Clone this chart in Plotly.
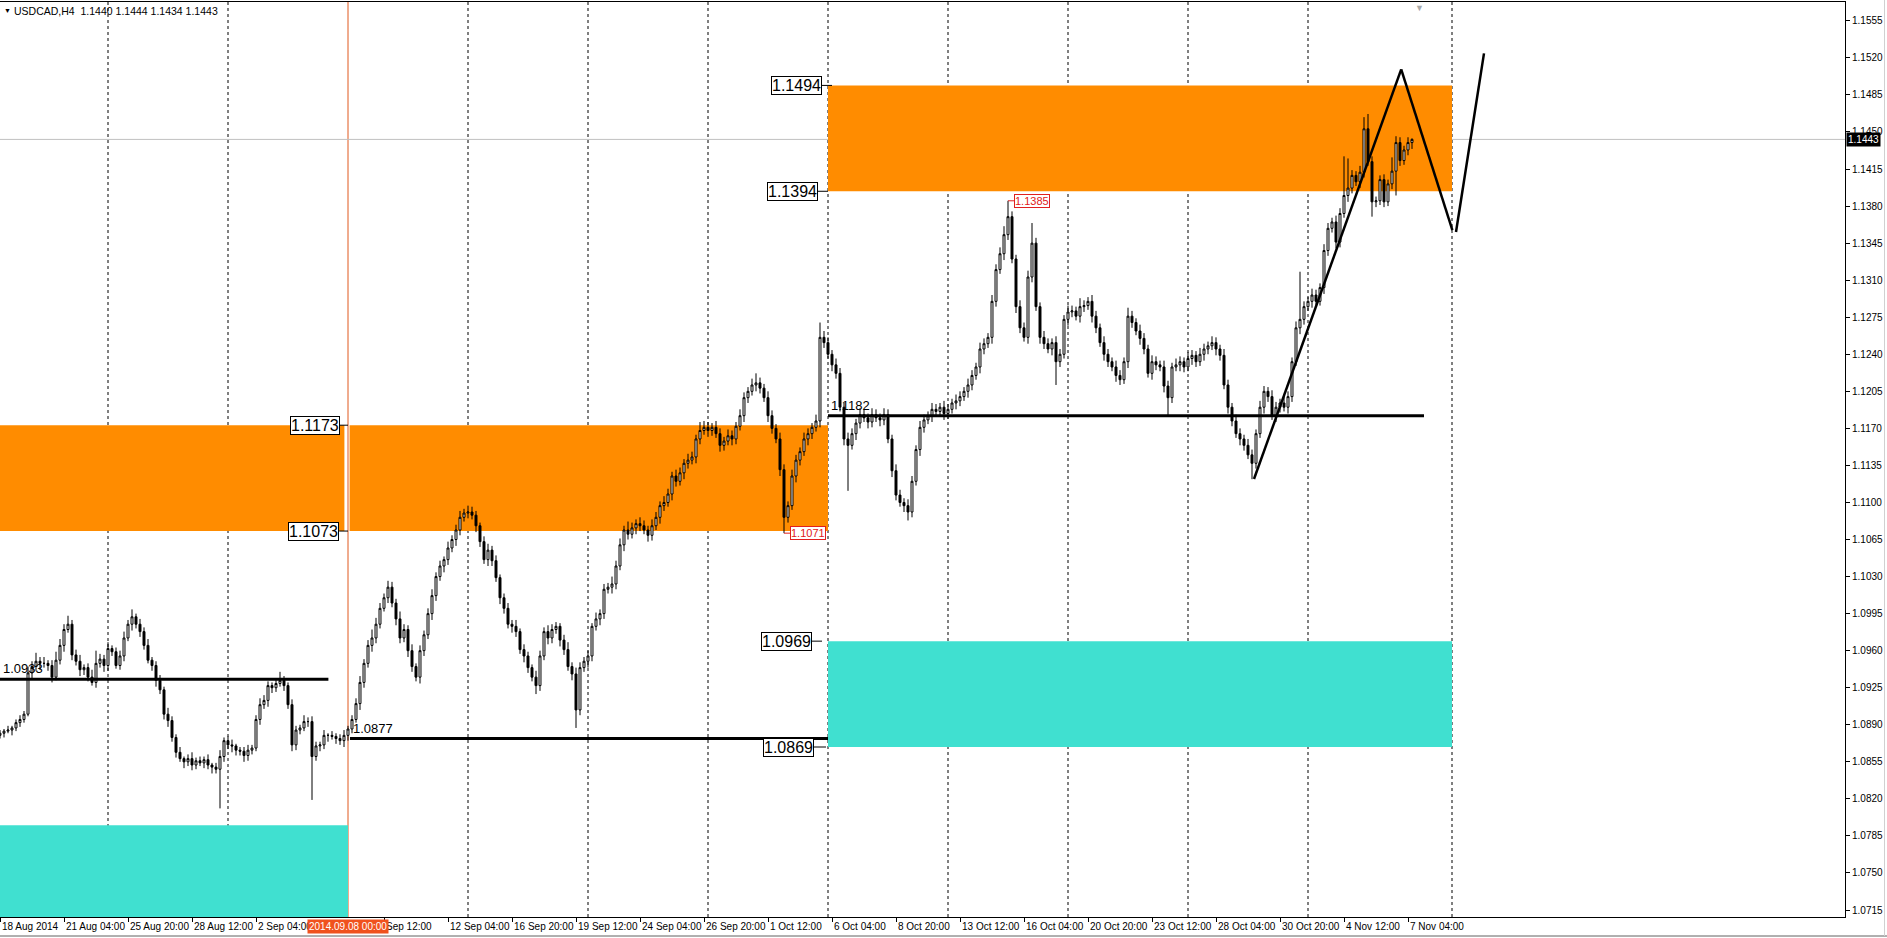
import plotly.graph_objects as go

# ---------------- data (prices in pips above 1.0000) ----------------
first_open_pips = 880
close_pips = [
    882, 884, 885, 887, 892, 895, 900, 939, 945, 950,
    948, 948, 946, 935, 951, 965, 980, 985, 956, 950,
    942, 944, 935, 930, 948, 952, 946, 962, 959, 946,
    955, 972, 985, 992, 985, 978, 965, 951, 946, 932,
    923, 900, 894, 878, 864, 858, 855, 858, 852, 856,
    854, 857, 852, 850, 848, 860, 875, 871, 870, 866,
    865, 861, 866, 868, 895, 909, 913, 927, 925, 929,
    932, 927, 909, 871, 885, 887, 893, 893, 860, 870,
    871, 880, 880, 879, 877, 875, 880,
    886, 895, 910, 930, 948, 965, 972, 985, 1000, 1010,
    1020, 1005, 990, 972, 980, 960, 945, 935, 960, 975,
    995, 1012, 1030, 1040, 1046, 1057, 1065, 1074, 1086, 1090,
    1091, 1088, 1078, 1063, 1046, 1055, 1045, 1029, 1010, 1000,
    985, 983, 978, 961, 955, 944, 935, 927, 955, 978,
    972, 980, 983, 970, 961, 945, 938, 904, 944, 950,
    955, 983, 990, 995, 1018, 1020, 1023, 1040, 1060, 1074,
    1070, 1076, 1080, 1078, 1074, 1069, 1078, 1086, 1097, 1100,
    1108, 1125, 1120, 1128, 1137, 1140, 1143, 1160, 1168, 1171,
    1168, 1171, 1165, 1154, 1158, 1163, 1160, 1172, 1182, 1199,
    1205, 1211, 1213, 1208, 1199, 1182, 1170, 1160, 1131, 1086,
    1097, 1125, 1140, 1148, 1160, 1165, 1171, 1177, 1256, 1251,
    1240, 1230, 1222, 1190, 1160, 1154, 1165, 1175, 1183, 1180,
    1176, 1183, 1180, 1178, 1183, 1160, 1130, 1107, 1100, 1097,
    1091, 1120, 1150, 1171, 1178, 1182, 1188, 1186, 1190, 1184,
    1188, 1194, 1196, 1200, 1205, 1211, 1220, 1228, 1245, 1250,
    1256, 1290, 1320, 1335, 1353, 1370, 1330, 1285, 1265, 1256,
    1313, 1345, 1285, 1256, 1250, 1245, 1251, 1233, 1240, 1273,
    1280, 1281, 1276, 1285, 1286, 1290, 1276, 1265, 1251, 1240,
    1233, 1228, 1220, 1216, 1233, 1276, 1270, 1262, 1255, 1245,
    1222, 1233, 1230, 1228, 1210, 1199, 1228, 1230, 1233, 1228,
    1236, 1239, 1233, 1240, 1245, 1248, 1251, 1245, 1239, 1211,
    1190, 1177, 1165, 1160, 1154, 1145, 1137, 1165, 1190, 1205,
    1200, 1182, 1190, 1194, 1190, 1200, 1233, 1265, 1273, 1285,
    1290, 1296, 1290, 1303, 1338, 1359, 1365, 1346, 1373, 1390,
    1397, 1409, 1403, 1412, 1453, 1422, 1384, 1385, 1405, 1384,
    1401, 1413, 1440, 1423, 1433, 1440, 1443,
]
wick_up = [
    3, 2, 4, 2, 3, 4, 3, 6, 5, 8,
    4, 6, 3, 5, 8, 6, 5, 8, 4, 5,
    6, 3, 4, 7, 12, 5, 4, 6, 3, 4,
    5, 6, 4, 7, 3, 5, 4, 6, 3, 4,
    5, 3, 6, 4, 3, 5, 2, 4, 6, 3,
    4, 3, 5, 2, 4, 6, 3, 4, 5, 2,
    3, 4, 5, 3, 4, 6, 5, 4, 3, 5,
    8, 4, 3, 5, 4, 3, 6, 4, 5, 4,
    3, 5, 2, 4, 3, 4, 5,
    3, 4, 5, 6, 4, 5, 8, 6, 5, 4,
    6, 5, 4, 7, 5, 4, 6, 3, 5, 4,
    5, 6, 4, 5, 3, 6, 4, 5, 6, 4,
    6, 5, 4, 3, 5, 6, 4, 5, 3, 4,
    5, 4, 6, 3, 5, 4, 3, 6, 5, 4,
    6, 5, 4, 3, 5, 7, 4, 6, 5, 4,
    5, 3, 6, 4, 5, 4, 7, 5, 6, 4,
    8, 5, 4, 6, 5, 4, 6, 5, 4, 6,
    5, 4, 6, 5, 4, 6, 5, 4, 8, 6,
    5, 4, 6, 5, 4, 6, 5, 4, 6, 5,
    4, 6, 9, 5, 4, 6, 5, 4, 6, 5,
    4, 6, 5, 4, 6, 5, 4, 6, 14, 6,
    5, 4, 6, 5, 4, 6, 5, 4, 6, 5,
    4, 6, 5, 4, 6, 5, 4, 6, 5, 4,
    6, 5, 4, 6, 5, 4, 6, 5, 4, 6,
    5, 4, 6, 5, 4, 6, 5, 4, 6, 5,
    4, 6, 5, 6, 8, 15, 5, 4, 6, 5,
    6, 19, 5, 4, 6, 5, 4, 6, 5, 4,
    6, 5, 4, 8, 5, 4, 6, 5, 4, 6,
    5, 4, 6, 5, 4, 8, 5, 4, 6, 5,
    4, 6, 5, 4, 6, 5, 4, 6, 5, 4,
    6, 5, 4, 6, 5, 4, 6, 5, 4, 6,
    5, 4, 6, 5, 4, 6, 5, 4, 6, 5,
    4, 6, 5, 4, 6, 5, 4, 6, 45, 5,
    4, 6, 5, 4, 6, 5, 4, 6, 5, 37,
    28, 5, 4, 6, 11, 14, 5, 4, 4, 5,
    4, 13, 6, 5, 4, 5, 1,
]
wick_dn = [
    3, 4, 2, 5, 3, 4, 3, 2, 5, 4,
    6, 4, 5, 5, 3, 4, 6, 3, 5, 4,
    6, 5, 4, 3, 5, 4, 6, 5, 4, 3,
    4, 5, 3, 6, 4, 5, 4, 3, 5, 6,
    4, 5, 6, 4, 5, 3, 6, 4, 5, 4,
    3, 5, 4, 6, 4, 37, 5, 4, 6, 5,
    4, 6, 5, 4, 3, 5, 4, 6, 5, 4,
    3, 5, 4, 6, 5, 4, 3, 5, 41, 4,
    5, 4, 6, 3, 5, 4, 6,
    5, 4, 3, 6, 5, 4, 6, 5, 4, 3,
    5, 4, 6, 5, 4, 6, 5, 4, 6, 5,
    4, 6, 5, 4, 6, 5, 4, 6, 5, 4,
    5, 4, 6, 5, 4, 6, 5, 4, 6, 5,
    4, 6, 5, 4, 6, 5, 4, 8, 5, 4,
    6, 5, 4, 6, 5, 4, 6, 17, 5, 4,
    6, 5, 4, 6, 5, 4, 6, 5, 4, 6,
    5, 4, 6, 5, 4, 6, 5, 4, 6, 5,
    4, 6, 5, 4, 6, 5, 4, 6, 5, 4,
    6, 5, 4, 6, 5, 4, 6, 5, 4, 6,
    5, 4, 6, 5, 4, 6, 5, 4, 6, 15,
    5, 4, 6, 5, 4, 6, 5, 4, 6, 5,
    4, 6, 5, 4, 6, 43, 4, 6, 5, 4,
    6, 5, 4, 6, 5, 4, 6, 5, 4, 6,
    8, 5, 4, 6, 5, 4, 6, 5, 4, 6,
    5, 4, 6, 5, 4, 6, 5, 4, 6, 5,
    4, 6, 5, 4, 6, 5, 4, 6, 5, 4,
    6, 5, 4, 6, 5, 4, 6, 22, 5, 4,
    6, 5, 4, 6, 5, 4, 6, 5, 4, 6,
    5, 4, 6, 5, 4, 6, 5, 4, 6, 5,
    4, 6, 5, 4, 6, 17, 5, 4, 6, 5,
    4, 6, 5, 4, 6, 5, 4, 6, 5, 4,
    6, 5, 4, 6, 5, 4, 15, 5, 4, 6,
    5, 4, 6, 5, 4, 6, 5, 4, 6, 5,
    4, 6, 5, 4, 6, 5, 4, 6, 5, 4,
    6, 5, 4, 6, 5, 4, 14, 5, 4, 5,
    4, 5, 23, 5, 4, 5, 6,
]

# x-axis: bar index of labels (H4 bars, first visible bar = 18 Aug 2014 12:00)
x_tick_idx = [0, 16, 32, 48, 64, 96, 112, 128, 144, 160, 176, 192, 208,
              224, 240, 256, 272, 288, 304, 320, 336, 352]
x_tick_text = ["18 Aug 2014", "21 Aug 04:00", "25 Aug 20:00", "28 Aug 12:00",
               "2 Sep 04:00", "Sep 12:00", "12 Sep 04:00",
               "16 Sep 20:00", "19 Sep 12:00", "24 Sep 04:00", "26 Sep 20:00",
               "1 Oct 12:00", "6 Oct 04:00", "8 Oct 20:00", "13 Oct 12:00",
               "16 Oct 04:00", "20 Oct 20:00", "23 Oct 12:00", "28 Oct 04:00",
               "30 Oct 20:00", "4 Nov 12:00", "7 Nov 04:00"]
y_tick_text = ["1.0715", "1.0750", "1.0785", "1.0820", "1.0855", "1.0890",
               "1.0925", "1.0960", "1.0995", "1.1030", "1.1065", "1.1100",
               "1.1135", "1.1170", "1.1205", "1.1240", "1.1275", "1.1310",
               "1.1345", "1.1380", "1.1415", "1.1450", "1.1485", "1.1520",
               "1.1555"]

# weekly separators (bar index of Monday 00:00) and a future vertical line
week_sep_idx = [27, 57, 117, 147, 177, 207, 237, 267, 297, 327, 363]
vline_idx = 87            # 2014.09.08 00:00
vline_label = "2014.09.08 00:00"

# zones: (x0 idx, x1 idx, low, high, colour)
zones = [
    (-10, 86.1, 1.1073, 1.1173, "#FF8C00"),
    (87.4, 207, 1.1073, 1.1173, "#FF8C00"),
    (207, 363, 1.1394, 1.1494, "#FF8C00"),
    (-10, 87, 1.0695, 1.0795, "#40E0D0"),
    (207, 363, 1.0869, 1.0969, "#40E0D0"),
]
# zone price labels: (text, right-edge idx, price, connector end idx)
zone_labels = [
    ("1.1494", 205.5, 1.1494, 208.0),
    ("1.1394", 204.5, 1.1394, 207.0),
    ("1.1173", 85.0, 1.1173, 87.0),
    ("1.1073", 84.8, 1.1073, 87.0),
    ("1.0969", 203.0, 1.0969, 205.5),
    ("1.0869", 203.5, 1.0869, 206.5),
]
# horizontal levels: (price, x0 idx, x1 idx, label)
levels = [
    (1.0933, 0, 82.1, "1.0933"),
    (1.0877, 87.5, 207, "1.0877"),
    (1.1182, 207, 356, "1.1182"),
]
# high/low markers: (text, bar idx, price)
hl_marks = [("1.1385", 252, 1.1385), ("1.1071", 196, 1.1071)]
# hand-drawn zigzag segments: ((idx0, p0), (idx1, p1))
zigzag = [
    ((313.5, 1.11222), (350.3, 1.15092)),
    ((350.3, 1.15092), (363.1, 1.13574)),
    ((364.0, 1.13555), (371.0, 1.15243)),
]
bid = 1.1443
title_text = "USDCAD,H4\u00a0\u00a01.1440 1.1444 1.1434 1.1443"

# ---------------- build OHLC ----------------
n = len(close_pips)
assert len(wick_up) == n and len(wick_dn) == n, (n, len(wick_up), len(wick_dn))
closes = [1 + c / 10000 for c in close_pips]
opens = [1 + first_open_pips / 10000] + closes[:-1]
highs = [max(o, c) + u / 10000 for o, c, u in zip(opens, closes, wick_up)]
lows = [min(o, c) - d / 10000 for o, c, d in zip(opens, closes, wick_dn)]
xs = list(range(n))

FONT = "Liberation Sans"
W, H = 1887, 938
ML, MR, MT, MB = 0, 42, 2, 21
PW = W - ML - MR

fig = go.Figure(go.Candlestick(
    x=xs, open=opens, high=highs, low=lows, close=closes,
    increasing=dict(line=dict(color="black", width=1), fillcolor="white"),
    decreasing=dict(line=dict(color="black", width=1), fillcolor="black"),
    whiskerwidth=0, showlegend=False, hoverinfo="skip",
))

shapes = []
for x0, x1, lo, hi, col in zones:
    shapes.append(dict(type="rect", x0=x0, x1=x1, y0=lo, y1=hi, xref="x", yref="y",
                       fillcolor=col, line=dict(width=0), layer="below"))
for s in week_sep_idx:
    shapes.append(dict(type="line", x0=s, x1=s, y0=0, y1=1, xref="x", yref="paper",
                       line=dict(color="black", width=1, dash="3px,3px"), layer="below"))
shapes.append(dict(type="line", x0=vline_idx, x1=vline_idx, y0=0, y1=1, xref="x",
                   yref="paper", line=dict(color="#E0581F", width=1), layer="below"))
shapes.append(dict(type="line", x0=0, x1=1, y0=bid, y1=bid, xref="paper", yref="y",
                   line=dict(color="#C0C0C0", width=1), layer="below"))
for p, x0, x1, _ in levels:
    shapes.append(dict(type="line", x0=x0, x1=x1, y0=p, y1=p, xref="x", yref="y",
                       line=dict(color="black", width=3), layer="above"))
for (a, b) in zigzag:
    shapes.append(dict(type="line", x0=a[0], y0=a[1], x1=b[0], y1=b[1], xref="x",
                       yref="y", line=dict(color="black", width=2.5), layer="above"))
for txt, xr, p, xc in zone_labels:
    shapes.append(dict(type="line", x0=xr, x1=xc, y0=p, y1=p, xref="x", yref="y",
                       line=dict(color="black", width=1), layer="above"))
for txt, bi, p in hl_marks:
    shapes.append(dict(type="line", x0=bi, x1=bi + 1.6, y0=p, y1=p, xref="x", yref="y",
                       line=dict(color="#E02020", width=1), layer="above"))
# window frame: bottom strip line and right border
shapes.append(dict(type="line", xref="paper", yref="paper",
                   x0=0, x1=(W - ML) / PW, y0=-(936 - (H - MB)) / (H - MT - MB),
                   y1=-(936 - (H - MB)) / (H - MT - MB),
                   line=dict(color="#606060", width=1)))
shapes.append(dict(type="line", xref="paper", yref="paper",
                   x0=(1884.5 - ML) / PW, x1=(1884.5 - ML) / PW,
                   y0=-(936 - (H - MB)) / (H - MT - MB), y1=1 + MT / (H - MT - MB),
                   line=dict(color="#D0D0D0", width=1)))

ann = []
for txt, xr, p, xc in zone_labels:
    ann.append(dict(x=xr, y=p, xref="x", yref="y", text=txt, showarrow=False,
                    xanchor="right", yanchor="middle", bgcolor="white",
                    bordercolor="black", borderwidth=1, borderpad=0,
                    font=dict(family=FONT, size=16, color="black")))
for txt, bi, p in hl_marks:
    ann.append(dict(x=bi + 1.6, y=p, xref="x", yref="y", text=txt, showarrow=False,
                    xanchor="left", yanchor="middle", bgcolor="white",
                    bordercolor="#E02020", borderwidth=1, borderpad=0,
                    font=dict(family=FONT, size=11, color="#E02020")))
for p, x0, x1, txt in levels:
    ann.append(dict(x=x0, y=p, xref="x", yref="y", text=txt, showarrow=False,
                    xanchor="left", yanchor="bottom", yshift=1, xshift=1,
                    font=dict(family=FONT, size=13, color="black")))
for xi, t in zip(x_tick_idx, x_tick_text):
    ann.append(dict(x=xi, y=0, xref="x", yref="paper", text=t, showarrow=False,
                    xanchor="left", yanchor="top", xshift=0, yshift=-2,
                    font=dict(family=FONT, size=10, color="black")))
ann.append(dict(x=vline_idx, y=0, xref="x", yref="paper", text=vline_label,
                showarrow=False, xanchor="center", yanchor="top", yshift=-2,
                bgcolor="#F0521E", borderpad=1,
                font=dict(family=FONT, size=10, color="white")))
ann.append(dict(x=1, y=bid, xref="paper", yref="y", text=f"{bid:.4f}", showarrow=False,
                xanchor="left", yanchor="middle", xshift=1, bgcolor="black", borderpad=1,
                font=dict(family=FONT, size=10, color="white")))
ann.append(dict(x=0, y=1, xref="paper", yref="paper", text="\u25bc", showarrow=False,
                xanchor="left", yanchor="top", xshift=2, yshift=-3,
                font=dict(family=FONT, size=7, color="black")))
ann.append(dict(x=0, y=1, xref="paper", yref="paper", text=title_text, showarrow=False,
                xanchor="left", yanchor="top", xshift=12, yshift=-1,
                font=dict(family=FONT, size=10.5, color="black")))
ann.append(dict(x=354.8, y=1, xref="x", yref="paper", text="\u25bc", showarrow=False,
                xanchor="center", yanchor="top", yshift=1,
                font=dict(family=FONT, size=9, color="#A8A8A8")))

fig.update_layout(
    width=W, height=H,
    margin=dict(l=ML, r=MR, t=MT, b=MB, pad=0, autoexpand=False),
    paper_bgcolor="white", plot_bgcolor="white",
    shapes=shapes, annotations=ann,
    xaxis=dict(range=[0, 461.25], showgrid=False, zeroline=False,
               rangeslider=dict(visible=False), tickmode="array", tickvals=x_tick_idx,
               showticklabels=False, ticks="outside", ticklen=4, tickcolor="black",
               showline=True, linecolor="black", linewidth=1, mirror=True,
               fixedrange=True, automargin=False),
    yaxis=dict(side="right", range=[1.07084, 1.15728], showgrid=False, zeroline=False,
               tickmode="array", tickvals=[float(s) for s in y_tick_text],
               ticktext=y_tick_text,
               ticks="outside", ticklen=4, tickcolor="black", showline=True,
               linecolor="black", linewidth=1, automargin=False,
               tickfont=dict(family=FONT, size=10, color="black"), fixedrange=True),
)

fig.write_html("out.html",
               config={"displayModeBar": False},
               post_script="document.body.style.margin='0';"
                           "document.body.style.overflow='hidden';")
